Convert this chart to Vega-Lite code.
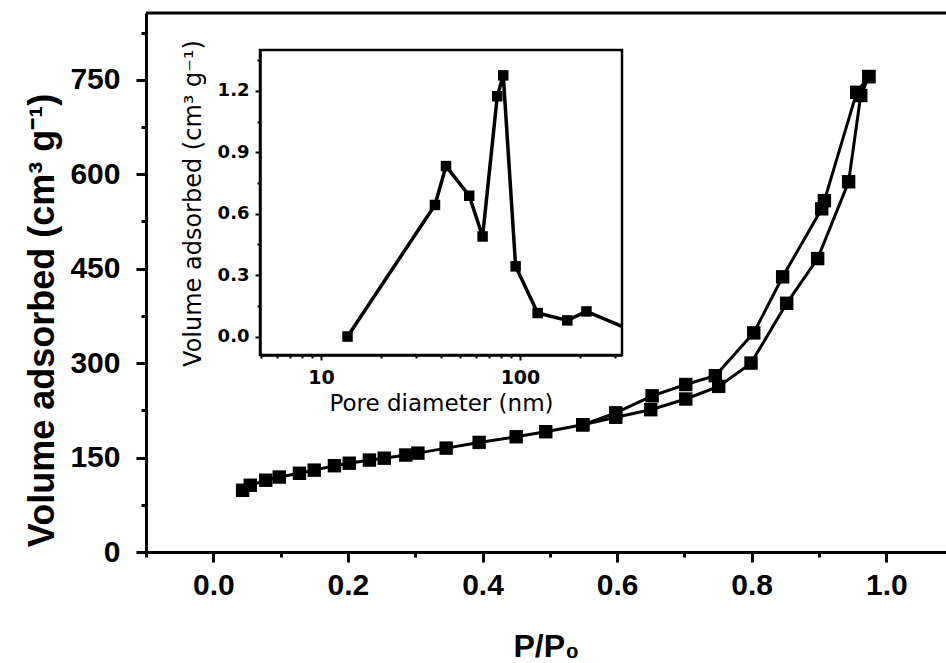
{
  "$schema": "https://vega.github.io/schema/vega-lite/v6.json",
  "width": 800,
  "height": 539,
  "autosize": "none",
  "padding": {"left": 146, "top": 13, "right": 0, "bottom": 111},
  "background": "white",
  "config": {
    "view": {"stroke": null},
    "axis": {"grid": false, "domainColor": "black", "tickColor": "black", "labelColor": "black", "titleColor": "black"}
  },
  "datasets": {
    "iso": [
      {"p": 0.0436, "v": 98, "branch": "ads"},
      {"p": 0.055, "v": 106, "branch": "ads"},
      {"p": 0.078, "v": 114, "branch": "ads"},
      {"p": 0.098, "v": 119, "branch": "ads"},
      {"p": 0.128, "v": 125, "branch": "ads"},
      {"p": 0.15, "v": 130, "branch": "ads"},
      {"p": 0.18, "v": 137, "branch": "ads"},
      {"p": 0.202, "v": 141, "branch": "ads"},
      {"p": 0.232, "v": 146, "branch": "ads"},
      {"p": 0.254, "v": 149, "branch": "ads"},
      {"p": 0.286, "v": 154, "branch": "ads"},
      {"p": 0.304, "v": 157, "branch": "ads"},
      {"p": 0.346, "v": 165, "branch": "ads"},
      {"p": 0.395, "v": 174, "branch": "ads"},
      {"p": 0.45, "v": 183, "branch": "ads"},
      {"p": 0.494, "v": 191, "branch": "ads"},
      {"p": 0.549, "v": 202, "branch": "ads"},
      {"p": 0.598, "v": 214, "branch": "ads"},
      {"p": 0.65, "v": 226, "branch": "ads"},
      {"p": 0.702, "v": 243, "branch": "ads"},
      {"p": 0.751, "v": 263, "branch": "ads"},
      {"p": 0.799, "v": 300, "branch": "ads"},
      {"p": 0.852, "v": 395, "branch": "ads"},
      {"p": 0.898, "v": 466, "branch": "ads"},
      {"p": 0.944, "v": 588, "branch": "ads"},
      {"p": 0.962, "v": 725, "branch": "ads"},
      {"p": 0.974, "v": 755, "branch": "ads"},
      {"p": 0.549, "v": 202, "branch": "des"},
      {"p": 0.598, "v": 221, "branch": "des"},
      {"p": 0.652, "v": 248, "branch": "des"},
      {"p": 0.702, "v": 266, "branch": "des"},
      {"p": 0.746, "v": 280, "branch": "des"},
      {"p": 0.803, "v": 348, "branch": "des"},
      {"p": 0.846, "v": 437, "branch": "des"},
      {"p": 0.904, "v": 545, "branch": "des"},
      {"p": 0.908, "v": 558, "branch": "des"},
      {"p": 0.956, "v": 730, "branch": "des"},
      {"p": 0.974, "v": 755, "branch": "des"}
    ],
    "psd": [
      {"d": 13.6, "v": 0.0},
      {"d": 37.4, "v": 0.643},
      {"d": 42.5, "v": 0.833},
      {"d": 55.6, "v": 0.688},
      {"d": 64.9, "v": 0.489},
      {"d": 76.9, "v": 1.174},
      {"d": 82.4, "v": 1.276},
      {"d": 95.1, "v": 0.343},
      {"d": 122.7, "v": 0.115},
      {"d": 172.9, "v": 0.079},
      {"d": 215.8, "v": 0.123},
      {"d": 325.6, "v": 0.05}
    ]
  },
  "layer": [
    {
      "data": {"name": "iso"},
      "mark": {"type": "line", "color": "black", "strokeWidth": 3},
      "encoding": {
        "detail": {"field": "branch"},
        "x": {
          "field": "p", "type": "quantitative",
          "scale": {"domain": [-0.1, 1.0887], "nice": false, "zero": false},
          "axis": {
            "values": [-0.1, 0, 0.1, 0.2, 0.3, 0.4, 0.5, 0.6, 0.7, 0.8, 0.9, 1.0],
            "labelExpr": "(round(datum.value*10) % 2 === 0 && datum.value > -0.05) ? format(datum.value, '.1f') : ''",
            "tickSize": {"condition": {"test": "round(datum.value*10) % 2 !== 0", "value": 5}, "value": 10},
            "tickWidth": 3, "domainWidth": 3,
            "labelFont": "Liberation Sans", "labelFontWeight": "bold", "labelFontSize": 30,
            "labelPadding": 8, "labelFlush": false, "labelOverlap": false,
            "title": "P/P₀", "titleFont": "Liberation Sans", "titleFontWeight": "bold", "titleFontSize": 32,
            "titleY": 104, "titleBaseline": "alphabetic"
          }
        },
        "y": {
          "field": "v", "type": "quantitative",
          "scale": {"domain": [0, 856], "nice": false, "zero": false},
          "axis": {
            "values": [0, 75, 150, 225, 300, 375, 450, 525, 600, 675, 750, 825],
            "labelExpr": "datum.value % 150 === 0 ? datum.label : ''",
            "tickSize": {"condition": {"test": "datum.value % 150 !== 0", "value": 5}, "value": 10},
            "tickWidth": 3, "domainWidth": 3,
            "labelFont": "Liberation Sans", "labelFontWeight": "bold", "labelFontSize": 30,
            "labelPadding": 16, "labelOverlap": false, "labelFlush": false,
            "title": "Volume adsorbed (cm³ g⁻¹)", "titleFont": "Liberation Sans", "titleFontWeight": "bold", "titleFontSize": 36,
            "titleX": -93, "titleY": 307, "titleBaseline": "alphabetic", "titleAngle": 270, "titleAlign": "center"
          }
        }
      }
    },
    {
      "data": {"name": "iso"},
      "mark": {"type": "point", "shape": "square", "filled": true, "color": "black", "size": 180, "opacity": 1},
      "encoding": {
        "x": {"field": "p", "type": "quantitative", "scale": {"domain": [-0.1, 1.0887], "nice": false, "zero": false}, "axis": null},
        "y": {"field": "v", "type": "quantitative", "scale": {"domain": [0, 856], "nice": false, "zero": false}, "axis": null}
      }
    },
    {
      "data": {"values": [{}]},
      "mark": {"type": "rule", "color": "black", "strokeWidth": 3},
      "encoding": {
        "y": {"datum": 856, "type": "quantitative", "scale": {"domain": [0, 856], "nice": false, "zero": false}, "axis": null}
      }
    },
    {
      "data": {"name": "psd"},
      "mark": {"type": "line", "color": "black", "strokeWidth": 3.5},
      "encoding": {
        "x": {
          "field": "d", "type": "quantitative",
          "scale": {"type": "log", "domain": [4.94, 325.6], "range": [114, 476], "nice": false, "zero": false},
          "axis": {
            "orient": "bottom", "offset": -197,
            "values": [5, 6, 7, 8, 9, 10, 20, 30, 40, 50, 60, 70, 80, 90, 100, 200, 300],
            "labelExpr": "(datum.value === 10 || datum.value === 100) ? datum.value + '' : ''",
            "tickSize": {"condition": {"test": "datum.value === 10 || datum.value === 100", "value": 5}, "value": 3},
            "tickWidth": 2, "domainWidth": 2.5,
            "labelFont": "DejaVu Sans", "labelFontSize": 19, "labelFontWeight": "bold", "labelPadding": 8,
            "labelFlush": false, "labelOverlap": false,
            "title": "Pore diameter (nm)", "titleFont": "DejaVu Sans", "titleFontWeight": "normal", "titleFontSize": 23,
            "titleY": 55, "titleBaseline": "alphabetic"
          }
        },
        "y": {
          "field": "v", "type": "quantitative",
          "scale": {"domain": [-0.09, 1.4], "range": [342, 37], "nice": false, "zero": false},
          "axis": {
            "orient": "left", "offset": -114,
            "values": [0, 0.15, 0.3, 0.45, 0.6, 0.75, 0.9, 1.05, 1.2, 1.35],
            "labelExpr": "round(datum.value*100) % 30 === 0 ? format(datum.value, '.1f') : ''",
            "tickSize": {"condition": {"test": "round(datum.value*100) % 30 !== 0", "value": 3}, "value": 5},
            "tickWidth": 2, "domainWidth": 2.5,
            "labelFont": "DejaVu Sans", "labelFontSize": 18, "labelFontWeight": "bold", "labelPadding": 6,
            "labelFlush": false, "labelOverlap": false,
            "title": "Volume adsorbed (cm³ g⁻¹)", "titleFont": "DejaVu Sans", "titleFontWeight": "normal", "titleFontSize": 24,
            "titleX": -60, "titleY": 190, "titleBaseline": "alphabetic", "titleAngle": 270
          }
        }
      }
    },
    {
      "data": {"name": "psd"},
      "transform": [{"filter": "datum.d < 300"}],
      "mark": {"type": "point", "shape": "square", "filled": true, "color": "black", "size": 110, "opacity": 1},
      "encoding": {
        "x": {"field": "d", "type": "quantitative", "scale": {"type": "log", "domain": [4.94, 325.6], "range": [114, 476], "nice": false, "zero": false}, "axis": null},
        "y": {"field": "v", "type": "quantitative", "scale": {"domain": [-0.09, 1.4], "range": [342, 37], "nice": false, "zero": false}, "axis": null}
      }
    },
    {
      "data": {"values": [{}]},
      "mark": {"type": "rect", "fillOpacity": 0, "stroke": "black", "strokeWidth": 2.5},
      "encoding": {
        "x": {"datum": 4.94, "type": "quantitative", "scale": {"type": "log", "domain": [4.94, 325.6], "range": [114, 476], "nice": false, "zero": false}, "axis": null},
        "x2": {"datum": 325.6},
        "y": {"datum": -0.09, "type": "quantitative", "scale": {"domain": [-0.09, 1.4], "range": [342, 37], "nice": false, "zero": false}, "axis": null},
        "y2": {"datum": 1.4}
      }
    }
  ],
  "resolve": {"scale": {"x": "independent", "y": "independent"}}
}
